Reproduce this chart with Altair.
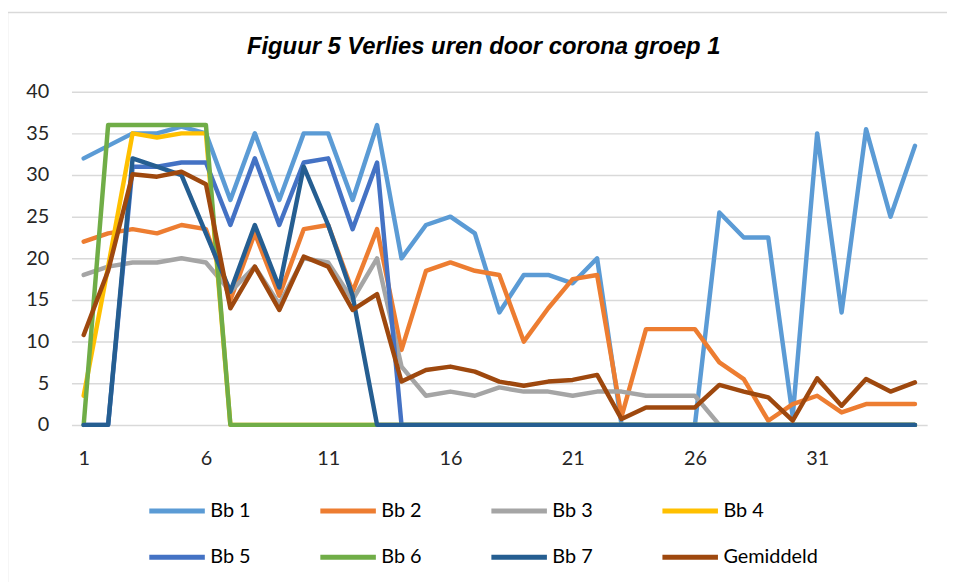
import altair as alt
import pandas as pd

days = list(range(1, 36))
series_names = ["Bb 1", "Bb 2", "Bb 3", "Bb 4", "Bb 5", "Bb 6", "Bb 7", "Gemiddeld"]
series_colors = ["#5B9BD5", "#ED7D31", "#A5A5A5", "#FFC000", "#4472C4", "#70AD47", "#255E91", "#9E480E"]

bb1 = [32, 33.5, 35, 35, 35.8, 35, 27, 35, 27, 35, 35, 27, 36, 20, 24, 25, 23, 13.5, 18, 18, 17, 20,
       0, 0, 0, 0, 25.5, 22.5, 22.5, 1, 35, 13.5, 35.5, 25, 33.5]
bb2 = [22, 23, 23.5, 23, 24, 23.5, 15, 23, 15.5, 23.5, 24, 16, 23.5, 9, 18.5, 19.5, 18.5, 18, 10, 14, 17.5, 18,
       1, 11.5, 11.5, 11.5, 7.5, 5.5, 0.5, 2.5, 3.5, 1.5, 2.5, 2.5, 2.5]
bb3 = [18, 19, 19.5, 19.5, 20, 19.5, 16, 19, 14.5, 20, 19.5, 15, 20, 7, 3.5, 4, 3.5, 4.5, 4, 4, 3.5, 4,
       4, 3.5, 3.5, 3.5, 0, 0, 0, 0, 0, 0, 0, 0, 0]
bb4 = [3.5, 19, 35, 34.5, 35, 35, 0, 0, 0, 0, 0, 0, 0, 0, 0, 0, 0, 0, 0, 0, 0, 0,
       0, 0, 0, 0, 0, 0, 0, 0, 0, 0, 0, 0, 0]
bb5 = [0, 0, 31, 31, 31.5, 31.5, 24, 32, 24, 31.5, 32, 23.5, 31.5, 0, 0, 0, 0, 0, 0, 0, 0, 0,
       0, 0, 0, 0, 0, 0, 0, 0, 0, 0, 0, 0, 0]
bb6 = [0, 36, 36, 36, 36, 36, 0, 0, 0, 0, 0, 0, 0, 0, 0, 0, 0, 0, 0, 0, 0, 0,
       0, 0, 0, 0, 0, 0, 0, 0, 0, 0, 0, 0, 0]
bb7 = [0, 0, 32, 31, 30, 23, 16, 24, 16.5, 31, 24, 15.5, 0, 0, 0, 0, 0, 0, 0, 0, 0, 0,
       0, 0, 0, 0, 0, 0, 0, 0, 0, 0, 0, 0, 0]
gemiddeld = [10.8, 18.5, 30.1, 29.8, 30.4, 28.9, 14, 19, 13.8, 20.2, 19, 13.8, 15.7, 5.2, 6.6, 7, 6.4, 5.2,
             4.7, 5.2, 5.4, 6, 0.7, 2.1, 2.1, 2.1, 4.8, 4, 3.3, 0.5, 5.6, 2.3, 5.5, 4, 5.1]

x_tick_values = [1, 6, 11, 16, 21, 26, 31]
y_tick_values = [0, 5, 10, 15, 20, 25, 30, 35, 40]
title_text = "Figuur 5 Verlies uren door corona groep 1"

all_values = [bb1, bb2, bb3, bb4, bb5, bb6, bb7, gemiddeld]
rows = []
for idx, (name, vals) in enumerate(zip(series_names, all_values)):
    for d, v in zip(days, vals):
        rows.append({"Dag": d, "Reeks": name, "Uren": v, "volg": idx})
df = pd.DataFrame(rows)

border = alt.Chart(pd.DataFrame({"k": [0]})).mark_rect(
    fillOpacity=0, stroke="#D9D9D9", strokeWidth=1.5
).encode(
    x=alt.value(-64.5), x2=alt.value(960), y=alt.value(-80), y2=alt.value(600)
)

lines = alt.Chart(df).mark_line(
    strokeWidth=4.5, strokeCap="round", strokeJoin="round"
).encode(
    x=alt.X("Dag:Q",
            scale=alt.Scale(domain=[0.5, 35.5], nice=False, zero=False),
            axis=alt.Axis(values=x_tick_values, grid=False, ticks=False, domain=False,
                          labelPadding=24, title=None, labelFontSize=20, labelFont="Lato",
                          labelColor="#262626")),
    y=alt.Y("Uren:Q",
            scale=alt.Scale(domain=[0, 40], nice=False),
            axis=alt.Axis(values=y_tick_values, ticks=False, domain=False, labelPadding=23,
                          title=None, labelFontSize=20, labelFont="Lato", labelColor="#262626",
                          gridColor="#D9D9D9", gridWidth=1.5)),
    color=alt.Color("Reeks:N",
                    scale=alt.Scale(domain=series_names, range=series_colors),
                    legend=alt.Legend(orient="none", legendX=76, legendY=392, columns=4,
                                      direction="horizontal",
                                      symbolType="stroke", symbolSize=3136, symbolStrokeWidth=5,
                                      labelFontSize=20, labelFont="Lato", labelColor="#000000",
                                      columnPadding=59.5, rowPadding=6, title=None,
                                      labelOffset=3)),
    detail="volg:N",
)

chart = alt.layer(border, lines).properties(
    width=863,
    height=336,
    title=alt.TitleParams(title_text, font="Liberation Sans", fontSize=24, fontStyle="italic",
                          fontWeight="bold", anchor="start", frame="group", dx=177, offset=-48,
                          color="#000000"),
    autosize=alt.AutoSizeParams(type="none"),
    padding={"left": 64, "top": 82, "right": 20, "bottom": 156},
    background="white",
).configure_view(stroke=None)

chart.save("out.html", embed_options={"renderer": "svg", "actions": False})
